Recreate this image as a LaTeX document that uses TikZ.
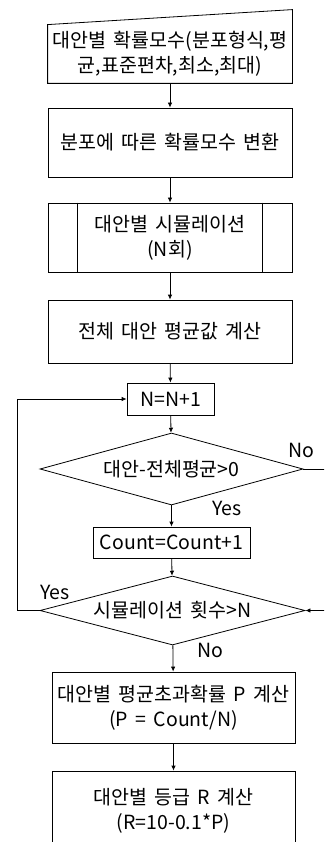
\documentclass[tikz,border=0pt]{standalone}
\usepackage{fontspec}
\setmainfont[WordSpace=1.7]{Noto Sans CJK KR}
\usepackage{tikz}
\usetikzlibrary{shapes.geometric,arrows.meta}
\tikzset{
  box/.style = {draw, rectangle, align=center, inner sep=0pt},
  decision/.style = {draw, diamond, aspect=3.6, inner sep=0pt, align=center},
  arrow/.style = {-{Latex[length=5pt,width=4.5pt]}},
  answer/.style = {inner sep=0pt}
}

\begin{document}
\begin{tikzpicture}[x=1pt, y=-1pt, line width=0.8pt, font=\fontsize{19.5}{25}\selectfont]
      % page frame, the bottom box and the right loop run past it
      \clip (0,0) rectangle (324,842);

      % manual input, slanted top drawn by hand
      \node[box, draw=none, minimum width=244pt, minimum height=58pt] (input) at (170,54)
        {대안별 확률모수(분포형식,평\\균,표준편차,최소,최대)};
      \draw (input.south west) -- (input.north west) -- ([yshift=15pt]input.north east)
        -- (input.south east) -- cycle;

      \node[box, minimum width=244pt, minimum height=69pt] (conv) at (170,142.5)
        {분포에 따른 확률모수 변환};
      % predefined process
      \node[box, minimum width=244pt, minimum height=69pt] (sim) at (170,237.5)
        {대안별 시뮬레이션\\(N회)};
      \foreach \side/\d in {west/30pt,east/-30pt} {
        \draw ([xshift=\d]sim.north \side) -- ([xshift=\d]sim.south \side);
      }
      \node[box, minimum width=244pt, minimum height=63pt] (avg) at (170,331.5)
        {전체 대안 평균값 계산};
      \node[box, minimum width=87pt, minimum height=32pt] (incr) at (170.5,399) {N=N+1};

      % decisions
      \node[decision, minimum width=263pt, minimum height=72pt] (d1) at (171.5,469)
        {대안-전체평균>0};
      \node[box, minimum width=157pt, minimum height=31pt] (cnt) at (171.5,542.5)
        {Count=Count+1};
      \node[decision, minimum width=265pt, minimum height=69pt] (d2) at (172.5,610.5)
        {시뮬레이션 횟수>N};

      \node[box, minimum width=243pt, minimum height=71pt] (pcalc) at (173.5,707.5)
        {대안별 평균초과확률 P 계산\\(P = Count/N)};
      \node[box, minimum width=243pt, minimum height=80pt] (rcalc) at (173.5,811)
        {대안별 등급 R 계산\\(R=10-0.1*P)};

      % straight arrows down the chart
      \foreach \a/\b in {input/conv, conv/sim, sim/avg, avg/incr, incr/d1,
                         d1/cnt, cnt/d2, d2/pcalc, pcalc/rcalc} {
        \draw[arrow] (\a) -- (\b);
      }

      % loops
      \coordinate (left) at (17,0);
      \coordinate (right) at (340,0);
      \draw[arrow] (d2.west) -- (d2.west -| left) |- (incr.west);
      \draw[arrow] (d1.east) -- (d1.east -| right) |- (d2.east);

      % answers
      \node[answer] (no1) at (301,450) {No};
      \node[answer] (yes1) at (227,508) {Yes};
      \node[answer] (yes2) at (55,592) {Yes};
      \node[answer] (no2) at (210,650) {No};
   \end{tikzpicture}
\end{document}
